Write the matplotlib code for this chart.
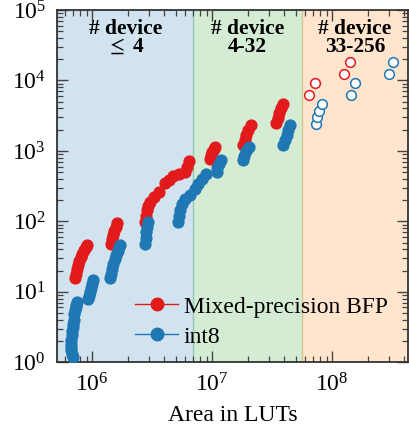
import matplotlib
matplotlib.use('Agg')
import matplotlib.pyplot as plt
from matplotlib.lines import Line2D
import numpy as np

plt.rcParams['font.family'] = ['Liberation Serif', 'DejaVu Serif']
plt.rcParams['mathtext.fontset'] = 'stix'

# ---- data ----
bfp_x = [7.25e5, 7.35e5, 7.5e5, 7.65e5, 7.85e5, 8.05e5, 8.3e5, 8.6e5, 8.9e5, 9.1e5,
         1.45e6, 1.47e6, 1.5e6, 1.53e6, 1.57e6, 1.6e6,
         2.77e6, 2.8e6, 2.86e6, 2.95e6, 3.04e6, 3.3e6, 3.6e6, 4.06e6, 4.4e6, 4.76e6,
         5.3e6, 5.96e6, 6.2e6, 6.43e6,
         9.6e6, 9.8e6, 1.0e7, 1.03e7, 1.06e7,
         1.82e7, 1.87e7, 1.93e7, 2.0e7, 2.1e7,
         3.41e7, 3.52e7, 3.65e7, 3.79e7, 3.93e7]
bfp_y = [15.6, 18, 21, 24, 27, 31, 35, 39, 43, 46,
         48, 56, 64, 73, 83, 94,
         98, 120, 144, 168, 190, 223, 265, 347, 390, 437,
         465, 504, 600, 720,
         780, 870, 960, 1050, 1140,
         1210, 1430, 1680, 1980, 2330,
         2450, 2900, 3400, 4000, 4700]

int8_x = [6.9e5, 6.8e5, 6.72e5, 6.66e5, 6.62e5, 6.7e5, 6.78e5, 6.85e5, 6.92e5, 6.98e5,
          7.05e5, 7.12e5, 7.2e5, 7.28e5, 7.35e5, 7.42e5,
          9.3e5, 9.45e5, 9.6e5, 9.8e5, 1.0e6, 1.01e6,
          1.41e6, 1.43e6, 1.46e6, 1.5e6, 1.54e6, 1.58e6, 1.63e6, 1.68e6, 1.71e6,
          2.77e6, 2.79e6, 2.82e6, 2.86e6, 2.92e6,
          5.24e6, 5.3e6, 5.41e6, 5.6e6, 5.96e6, 6.5e6, 7.22e6, 7.69e6, 8.3e6, 8.86e6,
          1.09e7, 1.11e7, 1.14e7, 1.18e7,
          1.8e7, 1.86e7, 1.93e7, 2.02e7,
          3.93e7, 4.05e7, 4.2e7, 4.33e7, 4.47e7]
int8_y = [1.19, 1.3, 1.48, 1.65, 1.84, 2.1, 2.42, 2.75, 3.17, 3.5,
          3.95, 4.9, 5.5, 6.1, 6.6, 7.2,
          7.8, 8.8, 10, 11.5, 13, 14.6,
          15.6, 18, 21, 25, 29, 33, 38, 43, 46,
          48, 58, 70, 83, 98,
          98, 120, 144, 175, 210, 240, 290, 340, 400, 468,
          505, 570, 650, 740,
          740, 860, 990, 1140,
          1210, 1430, 1680, 1980, 2330]

bfp_open_x = [6.47e7, 7.22e7, 1.27e8, 1.41e8]
bfp_open_y = [6200, 9270, 12300, 18450]
int8_open_x = [7.36e7, 7.54e7, 7.84e7, 8.2e7, 1.44e8, 1.55e8, 3.0e8, 3.24e8]
int8_open_y = [2410, 2990, 3675, 4580, 6200, 9270, 12300, 18450]

region_edges = [5.1e5, 7e6, 5.6e7, 4.3e8]
region_labels = ['# device\n$\\leq$ 4', '# device\n4-32', '# device\n33-256']
region_colors = ['tab:blue', 'tab:green', 'tab:orange']
series_labels = ['Mixed-precision BFP', 'int8']

RED = '#e31a1c'
BLUE = '#1f77b4'

fig = plt.figure(figsize=(4.09, 4.29), dpi=100)
ax = fig.add_axes([57 / 409, 1 - 362.3 / 429, (408 - 57) / 409, (362.3 - 10) / 429])

for i in range(3):
    ax.axvspan(region_edges[i], region_edges[i + 1], color=region_colors[i], alpha=0.2, zorder=0)
    xc = np.sqrt(region_edges[i] * region_edges[i + 1])
    ax.text(xc, 0.975, region_labels[i], transform=ax.get_xaxis_transform(),
            ha='center', va='top', fontsize=15.5, fontweight='bold', linespacing=0.85)

ax.plot(bfp_x, bfp_y, ls='none', marker='o', ms=7.8, color=RED, zorder=3)
ax.plot(int8_x, int8_y, ls='none', marker='o', ms=7.8, color=BLUE, zorder=4)
ax.plot(bfp_open_x, bfp_open_y, ls='none', marker='o', ms=7, mfc='white', mec=RED, mew=1.1, zorder=3)
ax.plot(int8_open_x, int8_open_y, ls='none', marker='o', ms=7, mfc='white', mec=BLUE, mew=1.1, zorder=4)

ax.set_xscale('log')
ax.set_yscale('log')
ax.set_xlim(region_edges[0], region_edges[-1])
ax.set_ylim(1, 1e5)

ax.tick_params(which='both', direction='in', top=True, right=True, colors='#444444', labelcolor='black')
ax.tick_params(which='major', length=8, width=1.0, labelsize=17, pad=8)
ax.tick_params(which='minor', length=4, width=0.9)
for s in ax.spines.values():
    s.set_color('#333333')
    s.set_linewidth(1.3)

ax.set_xlabel('Area in LUTs', fontsize=17, labelpad=6)

handles = [Line2D([], [], color=RED, lw=1, marker='o', ms=9),
           Line2D([], [], color=BLUE, lw=1, marker='o', ms=9)]
ax.legend(handles, series_labels, loc='lower left', bbox_to_anchor=(0.223, 0.042),
          frameon=False, fontsize=17, handlelength=1.8, handletextpad=0.25,
          labelspacing=0.35, borderpad=0, borderaxespad=0)

fig.savefig('out.png', dpi=100)
